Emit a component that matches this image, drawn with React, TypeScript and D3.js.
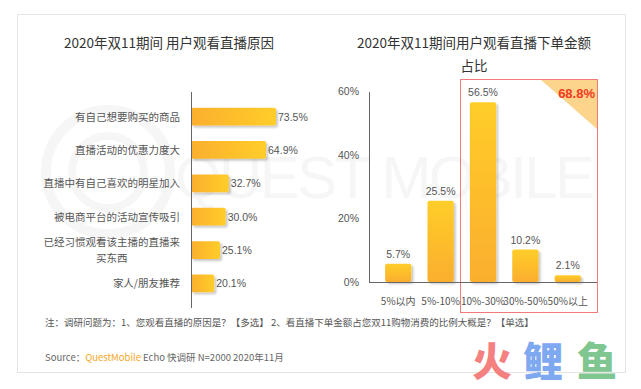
import React, { useEffect, useRef } from "react";
import * as d3 from "d3";

// left chart: reasons for watching live streams
const reasonLabels = [
  ["有自己想要购买的商品"],
  ["直播活动的优惠力度大"],
  ["直播中有自己喜欢的明星加入"],
  ["被电商平台的活动宣传吸引"],
  ["已经习惯观看该主播的直播来", "买东西"],
  ["家人/朋友推荐"],
];
const reasonValues = [73.5, 64.9, 32.7, 30.0, 25.1, 20.1];

// right chart: share of spend ordered via live streams
const shareCats = ["5%以内", "5%-10%", "10%-30%", "30%-50%", "50%以上"];
const shareValues = [5.7, 25.5, 56.5, 10.2, 2.1];
const shareTicks = [0, 20, 40, 60];
const highlightTotal = "68.8%";

const CJK = "'Noto Sans CJK SC', 'Liberation Sans', sans-serif";
const NUM = "'Liberation Sans', Arial, sans-serif";

export default function App() {
  const ref = useRef<SVGSVGElement>(null);

  useEffect(() => {
    const svg = d3.select(ref.current);
    svg.selectAll("*").remove();

    const defs = svg.append("defs");
    const gh = defs.append("linearGradient").attr("id", "gh").attr("x1", "0").attr("x2", "1").attr("y1", "0").attr("y2", "0");
    gh.append("stop").attr("offset", "0%").attr("stop-color", "#fbaf2e");
    gh.append("stop").attr("offset", "100%").attr("stop-color", "#ffcd2a");
    const gv = defs.append("linearGradient").attr("id", "gv").attr("x1", "0").attr("x2", "0").attr("y1", "0").attr("y2", "1");
    gv.append("stop").attr("offset", "0%").attr("stop-color", "#ffcd2a");
    gv.append("stop").attr("offset", "100%").attr("stop-color", "#fbae2e");
    const sh = defs.append("filter").attr("id", "sh").attr("x", "-20%").attr("y", "-20%").attr("width", "150%").attr("height", "150%");
    sh.append("feDropShadow").attr("dx", 2).attr("dy", 2).attr("stdDeviation", 1.2)
      .attr("flood-color", "#000").attr("flood-opacity", 0.22);

    // card
    svg.append("rect").attr("x", 17.5).attr("y", 14.5).attr("width", 608).attr("height", 358)
      .attr("fill", "#fff").attr("stroke", "#e4e4e4");

    // watermark (very faint)
    const wm = svg.append("g").attr("fill", "none").attr("stroke", "#f6f6f6");
    wm.append("circle").attr("cx", 108).attr("cy", 172).attr("r", 62).attr("stroke-width", 10);
    wm.append("circle").attr("cx", 108).attr("cy", 172).attr("r", 36).attr("stroke-width", 8);
    svg.append("text").attr("x", 175).attr("y", 198).attr("textLength", 420)
      .attr("font-family", NUM).attr("font-size", 60).attr("fill", "#f6f6f6")
      .text("QUEST MOBILE");

    // titles
    svg.append("text").attr("x", 169).attr("y", 48).attr("text-anchor", "middle")
      .attr("font-family", CJK).attr("font-size", 13.5).attr("fill", "#333")
      .text("2020年双11期间 用户观看直播原因");
    svg.append("text").attr("x", 474).attr("y", 48).attr("text-anchor", "middle")
      .attr("font-family", CJK).attr("font-size", 13.5).attr("fill", "#333")
      .text("2020年双11期间用户观看直播下单金额");
    svg.append("text").attr("x", 474).attr("y", 71).attr("text-anchor", "middle")
      .attr("font-family", CJK).attr("font-size", 13.5).attr("fill", "#333")
      .text("占比");

    // ---- left horizontal bars
    const idx = reasonValues.map((_, i) => i);
    const x = d3.scaleLinear().domain([0, 80]).range([191, 283.5]);
    const y = d3.scaleBand<number>().domain(idx).range([92, 308]).padding(0.47);

    const left = svg.append("g");
    left.selectAll("rect.bar").data(idx).enter().append("rect")
      .attr("x", x(0)).attr("y", (i) => y(i)!)
      .attr("width", (i) => x(reasonValues[i]) - x(0)).attr("height", y.bandwidth())
      .attr("rx", 2).attr("fill", "url(#gh)").attr("filter", "url(#sh)");
    left.append("line").attr("x1", 191.5).attr("x2", 191.5).attr("y1", 92).attr("y2", 308)
      .attr("stroke", "#666");
    left.selectAll("text.val").data(idx).enter().append("text")
      .attr("x", (i) => x(reasonValues[i]) + 2)
      .attr("y", (i) => y(i)! + y.bandwidth() / 2 + 4)
      .attr("font-family", NUM).attr("font-size", 10.5).attr("fill", "#555")
      .text((i) => reasonValues[i].toFixed(1) + "%");
    idx.forEach((i) => {
      const lines = reasonLabels[i];
      const cy = y(i)! + y.bandwidth() / 2;
      const fs = 10.5;
      if (lines.length === 1) {
        left.append("text").attr("x", 180).attr("y", cy + 4).attr("text-anchor", "end")
          .attr("font-family", CJK).attr("font-size", fs).attr("fill", "#555").text(lines[0]);
      } else {
        const w = lines[0].length * fs;
        const mid = 180 - w / 2;
        lines.forEach((l, k) => {
          left.append("text").attr("x", mid).attr("y", cy - 4 + k * 16).attr("text-anchor", "middle")
            .attr("font-family", CJK).attr("font-size", fs).attr("fill", "#555").text(l);
        });
      }
    });

    // ---- right vertical bars
    const xb = d3.scaleBand<string>().domain(shareCats).range([369, 597]).padding(0.38);
    const yl = d3.scaleLinear().domain([0, 60]).range([282, 91]);
    const right = svg.append("g");

    // highlight box
    const hx0 = 460, hx1 = 597, hy0 = 79, hy1 = 312;
    right.append("path").attr("d", `M${hx1 - 57},${hy0} L${hx1},${hy0} L${hx1},${hy0 + 50} Z`)
      .attr("fill", "#fdd48c");
    right.append("rect").attr("x", hx0 + 0.5).attr("y", hy0 + 0.5).attr("width", hx1 - hx0).attr("height", hy1 - hy0)
      .attr("fill", "none").attr("stroke", "#f27a7a");
    right.append("text").attr("x", hx1 - 2).attr("y", hy0 + 19).attr("text-anchor", "end")
      .attr("font-family", NUM).attr("font-size", 13).attr("font-weight", "bold").attr("fill", "#f23a1e")
      .text(highlightTotal);

    right.selectAll("rect.bar").data(shareCats).enter().append("rect")
      .attr("x", (c) => xb(c)!).attr("width", xb.bandwidth())
      .attr("y", (_, i) => yl(shareValues[i])).attr("height", (_, i) => yl(0) - yl(shareValues[i]))
      .attr("rx", 2).attr("fill", "url(#gv)").attr("filter", "url(#sh)");
    right.selectAll("text.val").data(shareCats).enter().append("text")
      .attr("x", (c) => xb(c)! + xb.bandwidth() / 2).attr("y", (_, i) => yl(shareValues[i]) - 6)
      .attr("text-anchor", "middle").attr("font-family", NUM).attr("font-size", 10.5).attr("fill", "#555")
      .text((_, i) => shareValues[i].toFixed(1) + "%");
    right.append("line").attr("x1", 369.5).attr("x2", 369.5).attr("y1", 92).attr("y2", 282)
      .attr("stroke", "#666");
    right.append("line").attr("x1", 369).attr("x2", 597).attr("y1", 282.5).attr("y2", 282.5)
      .attr("stroke", "#666");
    right.selectAll("text.tick").data(shareTicks).enter().append("text")
      .attr("x", 359).attr("y", (t) => yl(t) + 4).attr("text-anchor", "end")
      .attr("font-family", NUM).attr("font-size", 10.5).attr("fill", "#555")
      .text((t) => t + "%");
    right.selectAll("text.cat").data(shareCats).enter().append("text")
      .attr("x", (c) => xb(c)! + xb.bandwidth() / 2).attr("y", 305)
      .attr("text-anchor", "middle").attr("font-family", CJK).attr("font-size", 10).attr("fill", "#555")
      .text((c) => c);

    // notes
    svg.append("text").attr("x", 45).attr("y", 326)
      .attr("font-family", CJK).attr("font-size", 9.5).attr("fill", "#555")
      .text("注：调研问题为：1、您观看直播的原因是？【多选】 2、看直播下单金额占您双11购物消费的比例大概是？【单选】");
    const src = svg.append("text").attr("x", 45).attr("y", 361)
      .attr("font-family", CJK).attr("font-size", 9.5).attr("fill", "#666");
    src.append("tspan").text("Source：");
    src.append("tspan").attr("fill", "#f5a623").text("QuestMobile");
    src.append("tspan").text(" Echo 快调研 N=2000 2020年11月");

    // corner logo
    const logo = svg.append("g").attr("font-family", CJK).attr("font-size", 40).attr("font-weight", "900");
    logo.append("text").attr("x", 472).attr("y", 376).attr("fill", "#f48080").text("火");
    logo.append("text").attr("x", 523).attr("y", 376).attr("fill", "#7ea8f0").text("鲤");
    logo.append("text").attr("x", 577).attr("y", 376).attr("fill", "#80c690").text("鱼");
  }, []);

  return (
    <div style={{ position: "absolute", left: 0, top: 0 }}>
      <svg ref={ref} width={641} height={389} style={{ display: "block", background: "#fff" }} />
    </div>
  );
}
